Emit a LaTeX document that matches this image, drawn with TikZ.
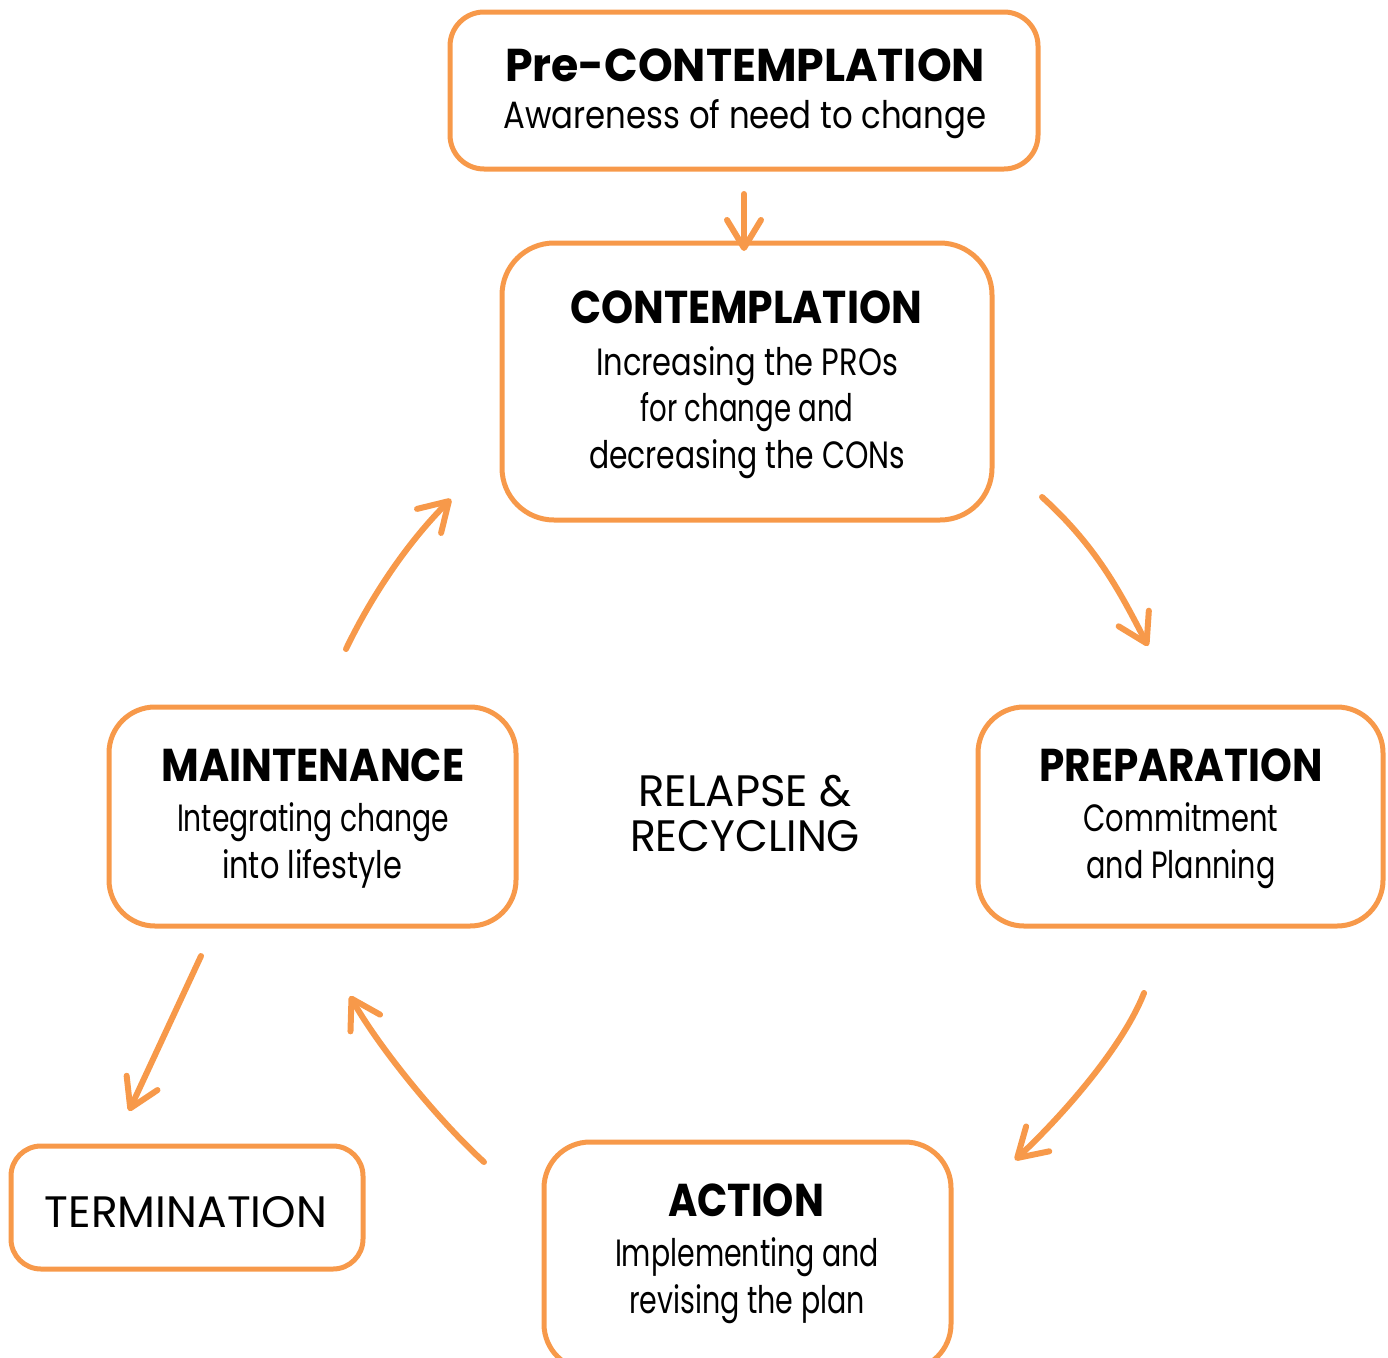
\documentclass[tikz,border=0pt]{standalone}
\usepackage{fontspec}
\usepackage{graphicx}
\setmainfont{Poppins}
\usetikzlibrary{arrows.meta}
\definecolor{org}{HTML}{F7994A}
\newcommand\fw[2]{\setbox0=\hbox{#2}\pgfmathsetmacro\fwr{#1pt/\the\wd0}\scalebox{\fwr}[1]{\copy0}}
\begin{document}
\begin{tikzpicture}[x=1pt,y=-1pt,
  box/.style={draw=org, line width=5pt, outer sep=0pt, inner sep=0pt},
  txt/.style={anchor=base, inner sep=0pt, text=black},
  ttl/.style={txt, font=\fontsize{46}{46}\selectfont\bfseries},
  bod/.style={txt, font=\fontsize{38}{38}\selectfont},
  rel/.style={txt, font=\fontsize{44}{44}\selectfont},
  arr/.style={draw=org, line width=6pt, line cap=round,
    -{Straight Barb[length=28pt,width=34pt,line cap=round,line join=round]}}]
\useasboundingbox (0,0) rectangle (1388,1357);
% boxes
\node[box, rounded corners=34pt, minimum width=588pt, minimum height=157pt] (pre) at (744,90.5) {};
\node[box, rounded corners=52pt, minimum width=490pt, minimum height=277pt] (cont) at (747,381.5) {};
\node[box, rounded corners=46pt, minimum width=405pt, minimum height=219pt] (prep) at (1180.5,816.5) {};
\node[box, rounded corners=46pt, minimum width=407pt, minimum height=219pt] (maint) at (312.5,816.5) {};
\node[box, rounded corners=46pt, minimum width=407pt, minimum height=228pt] (act) at (747.5,1256) {};
\node[box, rounded corners=30pt, minimum width=352pt, minimum height=123pt] (term) at (187,1207.5) {};
% texts
\node[ttl] (preT) at (745,81) {\fw{480}{Pre-CONTEMPLATION}};
\node[bod] (preS) at (745,128) {\fw{483}{Awareness of need to change}};
\node[ttl] (conT) at (746,323) {\fw{352}{CONTEMPLATION}};
\node[bod] (conS1) at (747,375) {\fw{302}{Increasing the PROs}};
\node[bod] (conS2) at (747,421) {\fw{213}{for change and}};
\node[bod] (conS3) at (747,468) {\fw{316}{decreasing the CONs}};
\node[ttl] (prepT) at (1181,781) {\fw{283}{PREPARATION}};
\node[bod] (prepS1) at (1181,831) {\fw{195}{Commitment}};
\node[bod] (prepS2) at (1181,878) {\fw{189}{and Planning}};
\node[ttl] (mainT) at (313,781) {\fw{303}{MAINTENANCE}};
\node[bod] (mainS1) at (313,831) {\fw{272}{Integrating change}};
\node[bod] (mainS2) at (312,878) {\fw{180}{into lifestyle}};
\node[rel] (rel1) at (745,806) {\fw{213}{RELAPSE \&}};
\node[rel] (rel2) at (745,851) {\fw{230}{RECYCLING}};
\node[ttl] (actT) at (746,1216) {\fw{156}{ACTION}};
\node[bod] (actS1) at (747,1266) {\fw{264}{Implementing and}};
\node[bod] (actS2) at (747,1313) {\fw{236}{revising the plan}};
\node[rel] (termT) at (186,1227) {\fw{282}{TERMINATION}};
% arrow end points
\coordinate (a2s) at (1042,497); \coordinate (a2e) at (1148,646);
\coordinate (a3s) at (1144,993); \coordinate (a3e) at (1015,1160);
\coordinate (a4s) at (484,1162); \coordinate (a4e) at (350,996);
\coordinate (a5s) at (346,649); \coordinate (a5e) at (451,499);
\coordinate (a6s) at (201,956); \coordinate (a6e) at (129,1111);
% arrows
\draw[arr, shorten <=25pt, shorten >=-8pt] (pre.south) -- (pre.south |- cont.north);
\draw[arr] (a2s) .. controls (1097,547) and (1120,592) .. (a2e);
\draw[arr] (a3s) .. controls (1122,1049) and (1059,1119) .. (a3e);
\draw[arr] (a4s) .. controls (440,1122) and (380,1049) .. (a4e);
\draw[arr] (a5s) .. controls (372,595) and (408,542) .. (a5e);
\draw[arr] (a6s) -- (a6e);
\end{tikzpicture}
\end{document}
